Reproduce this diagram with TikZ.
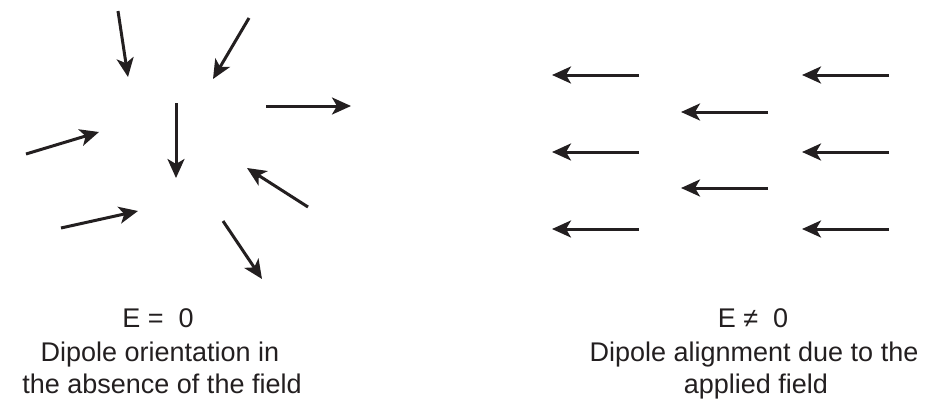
\documentclass[tikz,border=0pt]{standalone}
\usepackage{fontspec}
\setmainfont{Liberation Sans}
\usetikzlibrary{arrows.meta}
\definecolor{ink}{HTML}{231F20}
\tikzset{
  dipole/.style={draw=ink, line width=3pt, -{Stealth[length=19pt,width=17pt,inset=5pt]}},
  lbl/.style={anchor=base, inner sep=0pt, text=ink, font=\fontsize{27}{32}\selectfont}
}
\begin{document}
\begin{tikzpicture}[x=1pt,y=-1pt]
\useasboundingbox (0,0) rectangle (928,399);
% left: random orientation
\coordinate (a1t) at (118,11);  \coordinate (a1h) at (128,77);
\coordinate (a2t) at (249,18);  \coordinate (a2h) at (213,79);
\coordinate (a3t) at (266,106); \coordinate (a3h) at (351,106);
\coordinate (a4t) at (26,154);  \coordinate (a4h) at (99,132);
\coordinate (a5t) at (176,103); \coordinate (a5h) at (176,178);
\coordinate (a6t) at (308,207); \coordinate (a6h) at (247,168);
\coordinate (a7t) at (61,228);  \coordinate (a7h) at (138,211);
\coordinate (a8t) at (223,221); \coordinate (a8h) at (262,279);
\foreach \i in {1,...,8} \draw[dipole] (a\i t) -- (a\i h);
% right: aligned
\foreach \n/\xt/\xh/\y in {b1/639/552/75, b2/639/552/152, b3/639/552/229,
                           c1/768/681/112, c2/768/681/188,
                           d1/889/802/75, d2/889/802/152, d3/889/802/229} {
  \coordinate (\n t) at (\xt,\y);
  \coordinate (\n h) at (\xh,\y);
  \draw[dipole] (\n t) -- (\n h);
}
% labels
\node[lbl] (eq0) at (158,327) {E =\ \ 0};
\node[lbl] (l1)  at (160,361) {Dipole orientation in};
\node[lbl] (l2)  at (162,393) {the absence of the field};
\node[lbl] (ne0) at (753,327) {E ≠\ \ 0};
\node[lbl] (r1)  at (754,361) {Dipole alignment due to the};
\node[lbl] (r2)  at (756,393) {applied field};
\end{tikzpicture}
\end{document}
